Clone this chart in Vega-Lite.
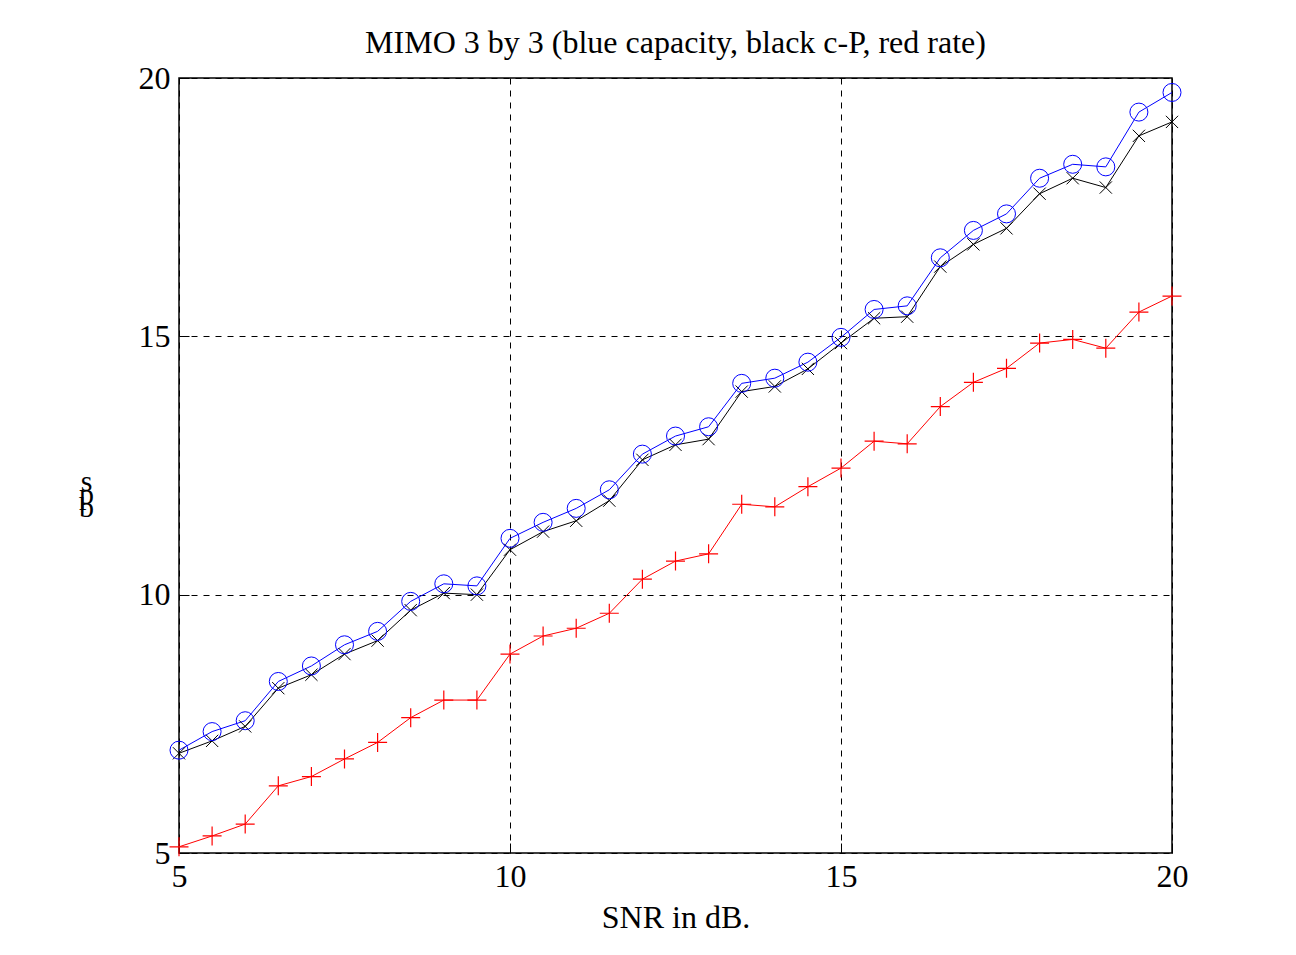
{
"$schema": "https://vega.github.io/schema/vega-lite/v6.json",
"width": 993, "height": 775,
"autosize": "none",
"padding": {"left": 179, "top": 78, "right": 124, "bottom": 102},
"background": "white",
"title": {"text": "MIMO 3 by 3 (blue capacity, black c-P, red rate)", "font": "Liberation Serif", "fontSize": 32, "fontWeight": "normal", "color": "black", "offset": 2, "anchor": "middle"},
"config": {"view": {"stroke": "black", "strokeWidth": 1.5}},
"data": {"values": [
{"snr":5,"s":"capacity","v":6.99},{"snr":5,"s":"c-P","v":6.93},{"snr":5,"s":"rate","v":5.12},
{"snr":5.5,"s":"capacity","v":7.35},{"snr":5.5,"s":"c-P","v":7.17},{"snr":5.5,"s":"rate","v":5.33},
{"snr":6,"s":"capacity","v":7.56},{"snr":6,"s":"c-P","v":7.45},{"snr":6,"s":"rate","v":5.56},
{"snr":6.5,"s":"capacity","v":8.32},{"snr":6.5,"s":"c-P","v":8.19},{"snr":6.5,"s":"rate","v":6.30},
{"snr":7,"s":"capacity","v":8.62},{"snr":7,"s":"c-P","v":8.45},{"snr":7,"s":"rate","v":6.48},
{"snr":7.5,"s":"capacity","v":9.03},{"snr":7.5,"s":"c-P","v":8.85},{"snr":7.5,"s":"rate","v":6.82},
{"snr":8,"s":"capacity","v":9.29},{"snr":8,"s":"c-P","v":9.11},{"snr":8,"s":"rate","v":7.14},
{"snr":8.5,"s":"capacity","v":9.87},{"snr":8.5,"s":"c-P","v":9.70},{"snr":8.5,"s":"rate","v":7.62},
{"snr":9,"s":"capacity","v":10.21},{"snr":9,"s":"c-P","v":10.03},{"snr":9,"s":"rate","v":7.96},
{"snr":9.5,"s":"capacity","v":10.17},{"snr":9.5,"s":"c-P","v":10.00},{"snr":9.5,"s":"rate","v":7.96},
{"snr":10,"s":"capacity","v":11.09},{"snr":10,"s":"c-P","v":10.87},{"snr":10,"s":"rate","v":8.85},
{"snr":10.5,"s":"capacity","v":11.40},{"snr":10.5,"s":"c-P","v":11.22},{"snr":10.5,"s":"rate","v":9.20},
{"snr":11,"s":"capacity","v":11.67},{"snr":11,"s":"c-P","v":11.43},{"snr":11,"s":"rate","v":9.35},
{"snr":11.5,"s":"capacity","v":12.03},{"snr":11.5,"s":"c-P","v":11.82},{"snr":11.5,"s":"rate","v":9.64},
{"snr":12,"s":"capacity","v":12.72},{"snr":12,"s":"c-P","v":12.61},{"snr":12,"s":"rate","v":10.30},
{"snr":12.5,"s":"capacity","v":13.07},{"snr":12.5,"s":"c-P","v":12.90},{"snr":12.5,"s":"rate","v":10.65},
{"snr":13,"s":"capacity","v":13.25},{"snr":13,"s":"c-P","v":13.01},{"snr":13,"s":"rate","v":10.79},
{"snr":13.5,"s":"capacity","v":14.09},{"snr":13.5,"s":"c-P","v":13.93},{"snr":13.5,"s":"rate","v":11.75},
{"snr":14,"s":"capacity","v":14.19},{"snr":14,"s":"c-P","v":14.03},{"snr":14,"s":"rate","v":11.70},
{"snr":14.5,"s":"capacity","v":14.50},{"snr":14.5,"s":"c-P","v":14.37},{"snr":14.5,"s":"rate","v":12.09},
{"snr":15,"s":"capacity","v":14.98},{"snr":15,"s":"c-P","v":14.87},{"snr":15,"s":"rate","v":12.45},
{"snr":15.5,"s":"capacity","v":15.52},{"snr":15.5,"s":"c-P","v":15.35},{"snr":15.5,"s":"rate","v":12.97},
{"snr":16,"s":"capacity","v":15.59},{"snr":16,"s":"c-P","v":15.38},{"snr":16,"s":"rate","v":12.92},
{"snr":16.5,"s":"capacity","v":16.52},{"snr":16.5,"s":"c-P","v":16.35},{"snr":16.5,"s":"rate","v":13.64},
{"snr":17,"s":"capacity","v":17.05},{"snr":17,"s":"c-P","v":16.78},{"snr":17,"s":"rate","v":14.11},
{"snr":17.5,"s":"capacity","v":17.37},{"snr":17.5,"s":"c-P","v":17.09},{"snr":17.5,"s":"rate","v":14.38},
{"snr":18,"s":"capacity","v":18.06},{"snr":18,"s":"c-P","v":17.76},{"snr":18,"s":"rate","v":14.87},
{"snr":18.5,"s":"capacity","v":18.33},{"snr":18.5,"s":"c-P","v":18.06},{"snr":18.5,"s":"rate","v":14.94},
{"snr":19,"s":"capacity","v":18.28},{"snr":19,"s":"c-P","v":17.88},{"snr":19,"s":"rate","v":14.77},
{"snr":19.5,"s":"capacity","v":19.34},{"snr":19.5,"s":"c-P","v":18.88},{"snr":19.5,"s":"rate","v":15.47},
{"snr":20,"s":"capacity","v":19.72},{"snr":20,"s":"c-P","v":19.15},{"snr":20,"s":"rate","v":15.78}
]},
"encoding": {
  "x": {"field": "snr", "type": "quantitative", "scale": {"domain": [5, 20], "nice": false, "zero": false},
    "axis": {"values": [5, 10, 15, 20], "domain": false, "grid": true, "gridColor": "black", "gridOpacity": 1, "gridDash": [6, 6], "gridWidth": 1,
      "ticks": true, "tickSize": -10, "tickColor": "black", "tickWidth": 1,
      "labelFont": "Liberation Serif", "labelFontSize": 32, "labelColor": "black", "labelPadding": 18, "labelFlush": false,
      "title": "SNR in dB.", "titleFont": "Liberation Serif", "titleFontSize": 32, "titleFontWeight": "normal", "titleColor": "black", "titleY": 64, "titleBaseline": "middle"}},
  "y": {"field": "v", "type": "quantitative", "scale": {"domain": [5, 20], "nice": false, "zero": false},
    "axis": {"values": [5, 10, 15, 20], "domain": false, "grid": true, "gridColor": "black", "gridOpacity": 1, "gridDash": [6, 6], "gridWidth": 1,
      "ticks": true, "tickSize": -10, "tickColor": "black", "tickWidth": 1,
      "labelFont": "Liberation Serif", "labelFontSize": 32, "labelColor": "black", "labelPadding": 19, "labelFlush": false,
      "title": ["s", "p", "b"], "titleAngle": 0, "titleX": -93, "titleY": 388, "titleBaseline": "top", "titleAlign": "center", "titleLineHeight": 13,
      "titleFont": "Liberation Serif", "titleFontSize": 30, "titleFontWeight": "normal", "titleColor": "black"}},
  "color": {"field": "s", "type": "nominal", "scale": {"domain": ["capacity", "c-P", "rate"], "range": ["#0000ff", "#000000", "#ff0000"]}, "legend": null}
},
"layer": [
  {"mark": {"type": "line", "strokeWidth": 1}},
  {"transform": [{"filter": "datum.s === 'rate'"}],
   "mark": {"type": "point", "filled": false, "strokeWidth": 1.2, "opacity": 1, "shape": "M-1,0L1,0M0,-1L0,1", "size": 361}},
  {"transform": [{"filter": "datum.s === 'c-P'"}],
   "mark": {"type": "point", "filled": false, "strokeWidth": 1, "opacity": 1, "shape": "M-1,-1L1,1M-1,1L1,-1", "size": 150}},
  {"transform": [{"filter": "datum.s === 'capacity'"}],
   "mark": {"type": "point", "filled": false, "strokeWidth": 1, "opacity": 1, "shape": "circle", "size": 324}}
]
}
